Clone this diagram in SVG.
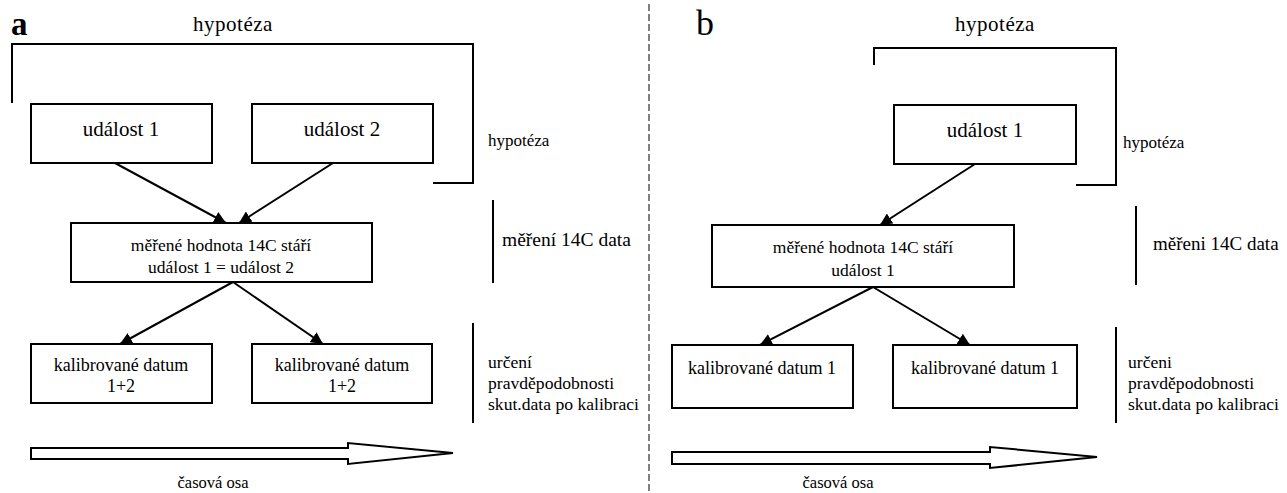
<svg xmlns="http://www.w3.org/2000/svg" width="1287" height="493" viewBox="0 0 1287 493">
<style>
text{font-family:"Liberation Serif","Times New Roman",serif;fill:#000}
.box{fill:#fff;stroke:#000;stroke-width:2}
.ln{fill:none;stroke:#000;stroke-width:2}
.c{text-anchor:middle}
.t21{font-size:21px}
.t18{font-size:18px}
.t17{font-size:17px}
.lab{font-size:17.6px}
.top{font-size:21px;letter-spacing:0.5px}
.conn{stroke:#000;stroke-width:2;fill:none;marker-end:url(#ah)}
.big{fill:#fff;stroke:#000;stroke-width:2;stroke-linejoin:miter}
</style>
<defs>
<marker id="ah" markerUnits="userSpaceOnUse" markerWidth="14" markerHeight="12" refX="12" refY="6" orient="auto">
<path d="M0,0 L12,6 L0,12 z" fill="#000"/>
</marker>
</defs>
<rect width="1287" height="493" fill="#fff"/>

<line x1="649" y1="4" x2="649" y2="493" stroke="#000" stroke-width="1" stroke-dasharray="7 3"/>

<g id="panel-a">
<text x="11" y="35" style="font-size:33px;font-weight:bold">a</text>
<text x="233" y="31" class="c top">hypotéza</text>
<path class="ln" d="M12,103 V44 H473 V183 H433"/>
<text x="488" y="146" class="t17">hypotéza</text>
<line class="ln" x1="493" y1="200" x2="493" y2="283"/>
<text x="502" y="246" style="font-size:19.5px">měření 14C data</text>
<line class="ln" x1="473" y1="323" x2="473" y2="423"/>
<text class="lab"><tspan x="488" y="368">určení</tspan><tspan x="488" y="389">pravděpodobnosti</tspan><tspan x="488" y="410">skut.data po kalibraci</tspan></text>
<polygon class="big" points="31,448 348,448 348,443 453,453 348,464 348,459 31,459"/>
<text x="213" y="488" class="c" style="font-size:16.5px">časová osa</text>
</g>

<g id="a-udalost1"><rect class="box" x="31" y="104" width="181" height="59"/><text x="121" y="136" class="c t21">událost 1</text></g>
<g id="a-udalost2"><rect class="box" x="252" y="104" width="181" height="59"/><text x="342" y="136" class="c t21">událost 2</text></g>
<g id="a-mereni"><rect class="box" x="71" y="223" width="301" height="59"/><text class="c" style="font-size:17.5px"><tspan x="221" y="251">měřené hodnota 14C stáří</tspan><tspan x="221" y="273">událost 1 = událost 2</tspan></text></g>
<g id="a-kal1"><rect class="box" x="31" y="344" width="181" height="59"/><text class="c t18"><tspan x="121" y="371">kalibrované datum</tspan><tspan x="121" y="392">1+2</tspan></text></g>
<g id="a-kal2"><rect class="box" x="252" y="344" width="180" height="59"/><text class="c t18"><tspan x="342" y="371">kalibrované datum</tspan><tspan x="342" y="392">1+2</tspan></text></g>

<g id="panel-b">
<text x="696" y="35" style="font-size:36px">b</text>
<text x="995" y="31" class="c top">hypotéza</text>
<path class="ln" d="M874,65 V48 H1116 V185 H1076"/>
<text x="1123" y="148" class="t17">hypotéza</text>
<line class="ln" x1="1136" y1="206" x2="1136" y2="285"/>
<text x="1153" y="250" style="font-size:19px">měřeni 14C data</text>
<line class="ln" x1="1116" y1="327" x2="1116" y2="423"/>
<text class="lab"><tspan x="1128" y="368">určeni</tspan><tspan x="1128" y="389">pravděpodobnosti</tspan><tspan x="1128" y="410">skut.data po kalibraci</tspan></text>
<polygon class="big" points="672,452 990,452 990,447 1097,457 990,468 990,464 672,464"/>
<text x="838" y="488" class="c" style="font-size:16.5px">časová osa</text>
</g>

<g id="b-udalost1"><rect class="box" x="894" y="105" width="182" height="59"/><text x="985" y="137" class="c t21">událost 1</text></g>
<g id="b-mereni"><rect class="box" x="712" y="225" width="302" height="62"/><text class="c" style="font-size:17.5px"><tspan x="863" y="253">měřené hodnota 14C stáří</tspan><tspan x="863" y="276">událost 1</tspan></text></g>
<g id="b-kal1"><rect class="box" x="672" y="345" width="181" height="63"/><text x="762" y="374" class="c t18">kalibrované datum 1</text></g>
<g id="b-kal2"><rect class="box" x="893" y="345" width="184" height="63"/><text x="985" y="374" class="c t18">kalibrované datum 1</text></g>

<g id="connectors">
<line class="conn" x1="115" y1="163" x2="226" y2="223"/>
<line class="conn" x1="333" y1="163" x2="239" y2="223"/>
<line class="conn" x1="233" y1="282" x2="120" y2="344"/>
<line class="conn" x1="233" y1="282" x2="323" y2="344"/>
<line class="conn" x1="975" y1="164" x2="880" y2="225"/>
<line class="conn" x1="873" y1="287" x2="760" y2="345"/>
<line class="conn" x1="873" y1="287" x2="970" y2="345"/>
</g>
</svg>
